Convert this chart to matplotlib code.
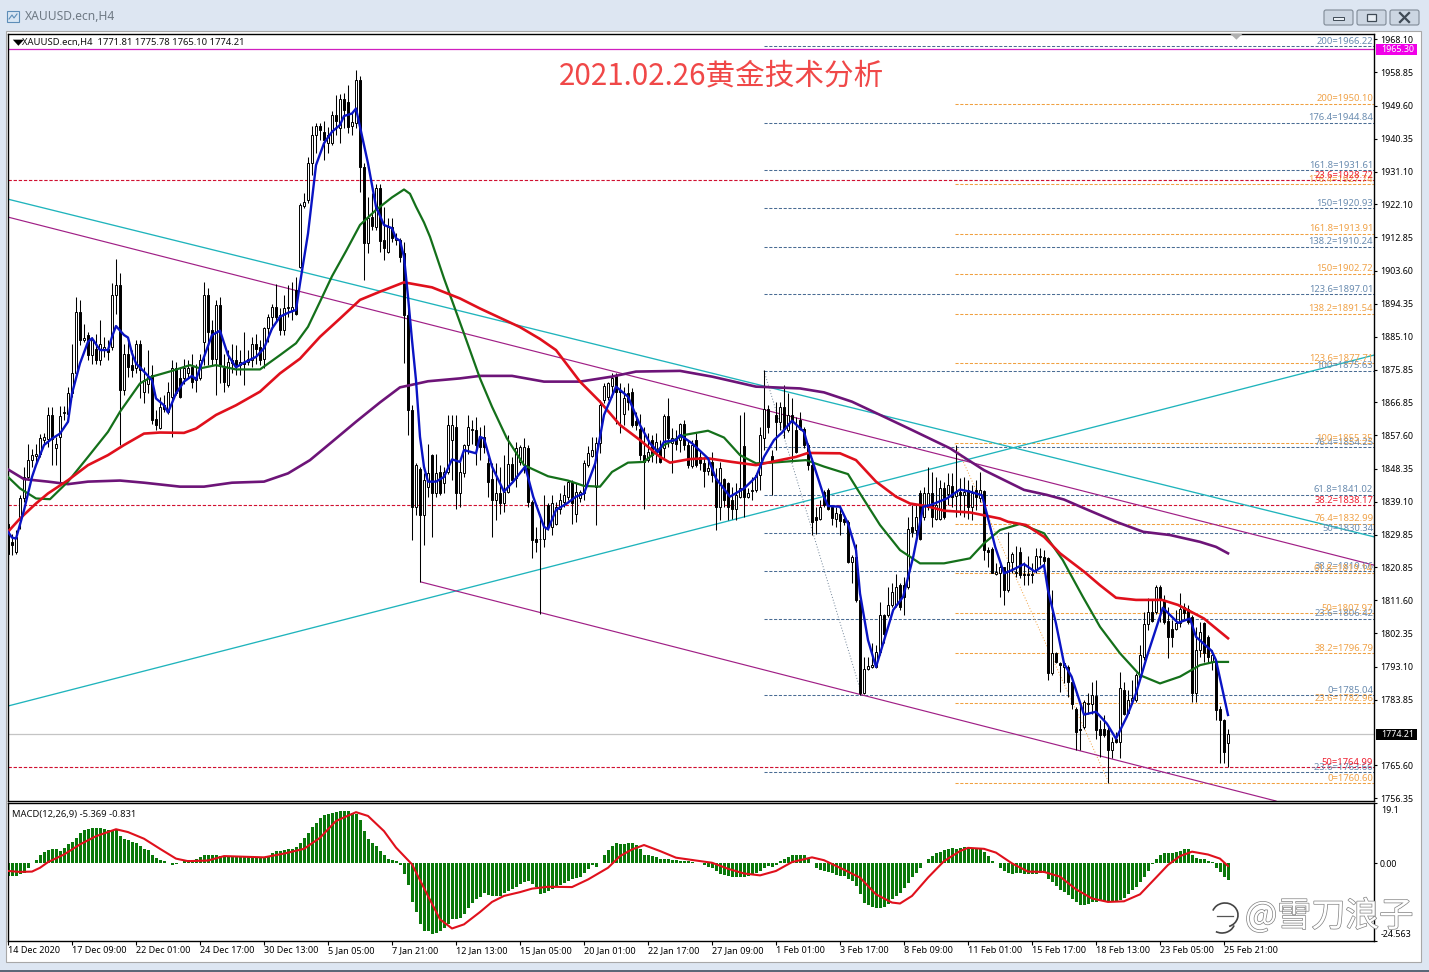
# MT4 XAUUSD H4 screenshot redrawn: candles, moving averages, fib levels, MACD.
# Prices.

import matplotlib

matplotlib.use("Agg")

import matplotlib.patheffects as pe
import matplotlib.pyplot as plt
import numpy as np
from matplotlib.colors import LinearSegmentedColormap
from matplotlib.patches import Arc, FancyBboxPatch, Polygon, Rectangle

plt.rcParams["font.family"] = ["Noto Sans", "DejaVu Sans"]
plt.rcParams["font.size"] = 6.5

W, H = 1429, 972

opens = [
    1833.0, 1827.9, 1825.1, 1833.9, 1840.0, 1846.0, 1850.7, 1851.8, 1852.5, 1856.4,
    1856.7, 1863.2, 1854.2, 1857.2, 1863.9, 1863.7, 1869.3, 1874.9, 1892.1, 1884.2,
    1885.6, 1880.0, 1881.8, 1878.6, 1881.8, 1881.8, 1882.3, 1896.7, 1899.5, 1870.2,
    1880.2, 1877.2, 1876.5, 1883.2, 1869.7, 1872.0, 1874.4, 1862.3, 1859.8, 1866.0,
    1864.2, 1868.4, 1876.3, 1873.5, 1873.5, 1874.9, 1876.7, 1873.0, 1873.5, 1883.7,
    1896.7, 1887.0, 1879.0, 1893.9, 1876.3, 1871.6, 1877.8, 1878.6, 1877.2, 1878.1,
    1878.1, 1878.6, 1883.2, 1882.3, 1879.0, 1887.6, 1890.5, 1893.3, 1891.1, 1887.0,
    1893.0, 1892.5, 1898.1, 1904.6, 1921.6, 1923.3, 1933.5, 1941.4, 1943.9, 1942.3,
    1939.1, 1939.1, 1947.0, 1943.3, 1951.4, 1950.7, 1943.9, 1944.8, 1956.7, 1932.6,
    1911.2, 1918.6, 1915.8, 1926.5, 1912.1, 1908.8, 1915.8, 1912.1, 1912.1, 1908.4,
    1891.2, 1864.7, 1837.7, 1848.3, 1835.3, 1843.2, 1852.1, 1841.4, 1847.4, 1844.2,
    1847.4, 1856.2, 1860.0, 1841.4, 1847.1, 1854.9, 1859.0, 1859.0, 1857.2, 1857.2,
    1849.8, 1845.3, 1839.5, 1841.4, 1838.8, 1841.9, 1849.5, 1845.6, 1850.2, 1849.3,
    1854.0, 1839.1, 1828.8, 1828.6, 1828.8, 1838.2, 1832.1, 1833.0, 1837.2, 1839.1,
    1840.5, 1844.7, 1835.8, 1840.0, 1841.4, 1849.3, 1851.8, 1843.3, 1855.4, 1867.4,
    1868.4, 1871.4, 1874.4, 1870.2, 1863.7, 1869.3, 1869.8, 1861.7, 1859.5, 1852.1,
    1850.7, 1856.3, 1852.6, 1854.0, 1854.0, 1863.0, 1855.4, 1857.0, 1856.3, 1860.8,
    1854.9, 1849.0, 1856.3, 1851.6, 1850.0, 1847.7, 1850.2, 1845.3, 1837.7, 1845.3,
    1844.2, 1839.5, 1837.2, 1840.5, 1854.6, 1840.5, 1842.0, 1842.3, 1846.5, 1856.8,
    1865.1, 1851.8, 1863.3, 1861.4, 1865.6, 1859.1, 1863.3, 1859.1, 1861.9, 1859.3,
    1854.9, 1849.3, 1834.9, 1834.4, 1841.9, 1842.3, 1837.7, 1834.4, 1835.8, 1834.4,
    1833.5, 1822.3, 1823.7, 1811.6, 1785.6, 1792.3, 1793.0, 1793.0, 1797.2, 1807.4,
    1807.4, 1810.2, 1810.2, 1815.8, 1815.8, 1815.4, 1832.1, 1831.2, 1841.4, 1834.9,
    1837.7, 1841.4, 1834.4, 1834.4, 1842.8, 1841.2, 1843.5, 1840.7, 1841.9, 1840.9,
    1842.5, 1837.7, 1842.3, 1840.0, 1842.2, 1825.6, 1826.0, 1818.9, 1819.1, 1820.8,
    1814.4, 1822.3, 1819.1, 1825.1, 1818.9, 1818.9, 1818.9, 1820.0, 1823.6, 1823.7,
    1823.3, 1791.2, 1797.0, 1794.0, 1792.9, 1793.0, 1788.9, 1781.4, 1775.8, 1776.3,
    1782.6, 1782.8, 1785.0, 1775.7, 1775.7, 1775.4, 1769.8, 1773.0, 1772.1, 1786.5,
    1780.2, 1783.6, 1783.7, 1790.3, 1795.8, 1805.1, 1808.4, 1808.4, 1815.4, 1811.7,
    1805.9, 1803.7, 1803.5, 1805.3, 1809.8, 1809.3, 1807.0, 1785.6, 1797.7, 1805.3,
    1801.4, 1794.4, 1794.4, 1781.4, 1778.3, 1771.81,
]
closes = [
    1824.6, 1827.0, 1829.3, 1840.0, 1846.0, 1850.7, 1852.1, 1852.5, 1857.0, 1857.2,
    1863.2, 1856.7, 1855.1, 1862.9, 1864.1, 1869.3, 1874.9, 1892.1, 1884.2, 1884.9,
    1880.0, 1884.2, 1878.6, 1883.2, 1882.3, 1880.9, 1896.7, 1899.5, 1870.2, 1880.4,
    1876.7, 1875.8, 1883.2, 1875.8, 1873.0, 1873.9, 1861.8, 1860.4, 1865.6, 1865.1,
    1869.7, 1876.3, 1869.3, 1868.4, 1876.3, 1876.3, 1872.5, 1873.9, 1878.6, 1896.7,
    1886.5, 1879.0, 1893.9, 1877.2, 1872.5, 1878.1, 1878.6, 1877.2, 1878.1, 1877.6,
    1879.0, 1883.2, 1881.8, 1878.6, 1887.6, 1890.7, 1893.3, 1890.7, 1887.0, 1893.0,
    1893.5, 1893.5, 1891.6, 1921.9, 1922.8, 1933.5, 1941.4, 1943.9, 1942.8, 1940.0,
    1941.4, 1947.0, 1945.4, 1951.4, 1948.4, 1943.7, 1945.1, 1956.7, 1932.6, 1911.2,
    1918.2, 1916.0, 1926.5, 1911.9, 1909.8, 1915.8, 1912.6, 1912.6, 1907.4, 1891.2,
    1864.7, 1837.7, 1849.3, 1835.3, 1845.1, 1847.0, 1841.4, 1847.0, 1841.4, 1847.4,
    1860.4, 1860.4, 1841.4, 1847.4, 1854.9, 1860.0, 1859.5, 1854.9, 1854.4, 1854.4,
    1844.7, 1839.5, 1841.4, 1838.8, 1841.9, 1849.5, 1845.1, 1854.2, 1854.4, 1854.4,
    1839.1, 1828.4, 1827.9, 1828.8, 1832.1, 1832.1, 1838.6, 1837.7, 1839.5, 1840.9,
    1844.7, 1838.6, 1841.9, 1841.9, 1849.8, 1852.8, 1853.5, 1855.4, 1866.0, 1871.4,
    1872.1, 1873.5, 1869.8, 1869.8, 1867.9, 1867.0, 1860.5, 1860.5, 1852.1, 1850.2,
    1853.0, 1852.1, 1855.8, 1850.2, 1863.0, 1856.8, 1856.8, 1855.2, 1860.8, 1854.9,
    1849.3, 1854.9, 1849.3, 1849.8, 1847.7, 1848.4, 1846.5, 1837.7, 1848.4, 1839.5,
    1837.7, 1837.2, 1840.9, 1842.8, 1840.5, 1841.4, 1842.5, 1846.5, 1857.7, 1865.1,
    1860.0, 1850.2, 1861.4, 1865.6, 1859.5, 1863.3, 1861.4, 1853.0, 1859.5, 1854.9,
    1849.3, 1833.5, 1834.0, 1837.7, 1838.2, 1837.2, 1834.6, 1836.0, 1833.8, 1833.5,
    1822.3, 1823.7, 1811.6, 1785.6, 1792.3, 1793.2, 1793.5, 1797.2, 1807.4, 1802.3,
    1810.2, 1814.0, 1815.4, 1809.8, 1812.6, 1831.6, 1830.7, 1834.9, 1828.8, 1841.6,
    1841.6, 1834.9, 1838.2, 1842.8, 1834.9, 1843.7, 1840.5, 1841.9, 1840.9, 1841.9,
    1837.7, 1841.4, 1840.5, 1842.5, 1825.6, 1825.1, 1819.3, 1819.6, 1820.8, 1814.6,
    1822.3, 1824.5, 1819.6, 1818.6, 1818.6, 1818.6, 1818.6, 1823.9, 1823.9, 1822.6,
    1791.2, 1797.0, 1794.4, 1793.5, 1794.0, 1788.9, 1782.6, 1774.9, 1775.4, 1783.3,
    1783.0, 1785.1, 1775.4, 1774.0, 1774.0, 1769.8, 1772.1, 1772.1, 1787.0, 1780.0,
    1783.9, 1784.2, 1790.7, 1796.3, 1804.9, 1808.4, 1805.9, 1815.4, 1811.7, 1805.6,
    1801.4, 1801.4, 1805.3, 1809.3, 1808.1, 1805.6, 1785.6, 1797.7, 1802.8, 1796.8,
    1795.8, 1796.3, 1781.0, 1778.3, 1769.3, 1774.21,
]
highs = [
    1834.0, 1830.2, 1831.1, 1840.9, 1848.8, 1855.3, 1853.9, 1855.3, 1858.1, 1858.3,
    1865.6, 1865.6, 1857.2, 1865.7, 1865.7, 1871.2, 1883.1, 1896.1, 1895.5, 1888.8,
    1886.5, 1885.1, 1886.0, 1889.7, 1885.1, 1884.2, 1900.0, 1906.8, 1902.9, 1883.2,
    1884.2, 1881.4, 1884.2, 1884.2, 1876.7, 1881.4, 1877.2, 1864.6, 1868.4, 1868.8,
    1872.5, 1878.6, 1878.1, 1876.7, 1879.0, 1878.6, 1880.4, 1877.6, 1880.4, 1900.4,
    1898.6, 1889.7, 1895.3, 1896.3, 1880.4, 1881.4, 1883.2, 1882.8, 1881.4, 1886.5,
    1881.4, 1885.1, 1886.0, 1884.2, 1887.9, 1891.6, 1894.2, 1899.8, 1893.0, 1896.7,
    1899.5, 1900.4, 1901.8, 1922.3, 1925.3, 1935.3, 1943.9, 1944.7, 1944.7, 1945.4,
    1943.7, 1948.2, 1952.6, 1952.8, 1953.0, 1955.4, 1947.9, 1959.5, 1958.0, 1933.5,
    1924.2, 1925.1, 1927.7, 1927.7, 1921.4, 1918.2, 1918.2, 1914.0, 1912.6, 1911.6,
    1893.0, 1866.0, 1850.0, 1848.8, 1847.0, 1855.3, 1852.5, 1852.5, 1849.3, 1848.8,
    1863.2, 1863.2, 1863.2, 1850.2, 1855.3, 1863.2, 1861.8, 1862.8, 1860.0, 1860.5,
    1851.6, 1849.8, 1849.8, 1848.8, 1852.1, 1857.7, 1851.6, 1855.8, 1855.0, 1856.8,
    1854.9, 1839.5, 1832.1, 1835.8, 1840.9, 1838.6, 1840.9, 1839.1, 1841.4, 1843.7,
    1845.1, 1845.1, 1844.2, 1842.3, 1850.7, 1854.6, 1857.2, 1857.2, 1867.4, 1872.1,
    1872.6, 1874.9, 1874.9, 1872.1, 1871.2, 1872.1, 1870.7, 1864.2, 1863.7, 1860.0,
    1858.2, 1857.7, 1858.2, 1856.3, 1863.7, 1867.9, 1859.6, 1859.1, 1861.0, 1861.9,
    1856.3, 1856.3, 1858.2, 1853.5, 1851.6, 1850.7, 1853.0, 1848.4, 1850.2, 1845.6,
    1844.7, 1843.3, 1844.2, 1863.3, 1864.2, 1842.8, 1846.0, 1847.0, 1860.0, 1875.8,
    1866.0, 1853.5, 1867.0, 1867.0, 1871.6, 1869.3, 1867.9, 1862.8, 1864.2, 1860.0,
    1855.4, 1851.2, 1837.7, 1839.5, 1842.3, 1842.8, 1838.2, 1837.7, 1838.2, 1835.4,
    1834.0, 1824.2, 1827.4, 1812.1, 1795.8, 1795.8, 1799.6, 1799.1, 1811.2, 1807.9,
    1815.4, 1816.3, 1818.9, 1816.3, 1818.2, 1834.9, 1838.2, 1838.2, 1842.3, 1843.3,
    1848.8, 1847.4, 1846.0, 1845.1, 1844.7, 1847.0, 1847.0, 1854.9, 1845.6, 1846.1,
    1845.1, 1843.7, 1845.1, 1847.5, 1842.4, 1826.5, 1826.5, 1821.9, 1821.9, 1821.0,
    1830.7, 1825.1, 1826.7, 1826.5, 1822.3, 1823.9, 1821.9, 1826.3, 1826.3, 1825.6,
    1823.7, 1814.4, 1797.2, 1794.4, 1794.4, 1793.5, 1789.3, 1781.9, 1782.8, 1783.7,
    1785.6, 1788.9, 1789.3, 1778.2, 1779.6, 1776.8, 1773.5, 1774.9, 1791.7, 1788.9,
    1786.5, 1789.3, 1791.2, 1799.1, 1808.4, 1812.1, 1811.7, 1815.8, 1815.8, 1813.0,
    1809.8, 1806.1, 1808.9, 1813.7, 1810.7, 1810.3, 1807.5, 1804.2, 1805.6, 1805.6,
    1801.9, 1797.7, 1794.9, 1782.0, 1778.6, 1775.78,
]
lows = [
    1821.8, 1824.2, 1824.6, 1831.6, 1839.0, 1845.1, 1848.8, 1849.7, 1851.6, 1855.3,
    1854.4, 1849.3, 1849.3, 1844.2, 1861.8, 1862.8, 1868.4, 1873.9, 1882.8, 1883.7,
    1878.6, 1877.6, 1877.6, 1877.2, 1879.5, 1878.6, 1881.4, 1891.6, 1854.9, 1868.8,
    1873.9, 1873.9, 1874.9, 1867.9, 1866.5, 1869.3, 1860.9, 1859.0, 1859.5, 1864.2,
    1863.7, 1857.2, 1868.8, 1867.9, 1872.0, 1873.5, 1870.7, 1869.7, 1873.0, 1877.2,
    1877.2, 1877.2, 1868.8, 1872.1, 1869.7, 1871.1, 1874.9, 1874.4, 1874.4, 1871.6,
    1877.2, 1876.7, 1877.6, 1877.2, 1876.3, 1883.7, 1887.4, 1889.3, 1885.6, 1885.6,
    1890.7, 1889.7, 1891.1, 1904.2, 1920.9, 1922.3, 1930.2, 1936.3, 1940.0, 1934.4,
    1936.5, 1938.5, 1941.4, 1939.1, 1943.3, 1942.1, 1941.4, 1943.3, 1925.6, 1900.9,
    1908.4, 1914.9, 1914.9, 1908.8, 1906.5, 1908.4, 1911.6, 1910.7, 1906.0, 1877.7,
    1857.7, 1828.4, 1835.3, 1816.7, 1827.0, 1840.4, 1829.3, 1840.4, 1840.9, 1841.4,
    1846.9, 1845.1, 1837.2, 1837.7, 1846.0, 1852.5, 1855.3, 1849.3, 1850.7, 1852.6,
    1840.5, 1829.3, 1834.0, 1835.8, 1836.3, 1841.4, 1844.2, 1843.3, 1849.3, 1847.0,
    1837.7, 1823.3, 1825.1, 1807.9, 1826.5, 1831.2, 1829.8, 1832.6, 1835.8, 1837.7,
    1839.5, 1833.0, 1833.5, 1839.1, 1839.5, 1848.8, 1851.6, 1832.6, 1852.6, 1866.5,
    1867.4, 1868.4, 1860.9, 1858.2, 1860.5, 1864.7, 1860.0, 1859.1, 1850.7, 1837.2,
    1850.2, 1850.2, 1849.8, 1849.8, 1851.2, 1854.4, 1847.0, 1853.5, 1853.0, 1853.5,
    1848.4, 1848.4, 1848.8, 1847.9, 1843.3, 1846.5, 1844.7, 1831.2, 1834.0, 1837.7,
    1834.0, 1834.4, 1834.0, 1840.0, 1834.9, 1840.0, 1839.5, 1841.9, 1842.3, 1853.5,
    1858.2, 1840.9, 1853.5, 1859.1, 1856.8, 1858.6, 1850.2, 1852.6, 1859.1, 1854.0,
    1847.9, 1829.8, 1830.2, 1834.0, 1837.7, 1836.7, 1832.6, 1832.1, 1829.8, 1832.6,
    1821.9, 1816.3, 1811.0, 1785.1, 1785.4, 1792.1, 1792.6, 1792.8, 1796.3, 1799.6,
    1807.0, 1809.8, 1809.8, 1809.0, 1807.4, 1814.8, 1829.3, 1829.5, 1828.4, 1834.0,
    1836.7, 1832.1, 1834.0, 1834.0, 1834.4, 1838.2, 1837.7, 1834.9, 1835.4, 1834.9,
    1834.4, 1834.0, 1836.8, 1839.1, 1822.8, 1821.0, 1819.1, 1818.6, 1812.6, 1810.3,
    1814.0, 1819.1, 1818.2, 1817.7, 1815.8, 1815.8, 1816.3, 1819.1, 1821.4, 1819.6,
    1789.3, 1790.7, 1794.0, 1786.1, 1788.4, 1784.7, 1781.4, 1769.8, 1769.8, 1775.8,
    1780.0, 1780.0, 1773.0, 1767.9, 1773.5, 1760.5, 1767.5, 1771.7, 1767.5, 1779.6,
    1780.0, 1782.8, 1783.3, 1789.8, 1794.9, 1803.3, 1805.6, 1807.9, 1805.6, 1805.1,
    1795.4, 1798.6, 1803.3, 1804.2, 1806.5, 1805.1, 1783.3, 1783.3, 1795.8, 1794.4,
    1794.0, 1792.1, 1778.2, 1766.1, 1766.1, 1765.10,
]

# moving averages, sampled at bar index
blue_x = [
    0, 1, 2, 4, 6, 7, 9, 11, 13, 15, 16, 18, 20, 21, 23, 25, 26, 27, 29, 30, 31, 32, 34, 36,
    37, 39, 40, 42, 44, 46, 47, 49, 51, 53, 55, 57, 59, 62, 64, 66, 68, 70, 72, 73, 75, 77,
    79, 81, 83, 84, 86, 87, 88, 90, 92, 94, 96, 97, 98, 99, 100, 101, 102, 103, 104, 105,
    107, 109, 111, 113, 114, 117, 118, 119, 121, 124, 126.3, 129.3, 131.3, 134, 135, 137,
    139.7, 142, 144, 146.8, 149, 152, 155, 158, 160.5, 162.5, 164, 167, 168, 171, 175, 177,
    180.5, 184, 187, 189, 191.5, 193.5, 196, 199, 200.5, 204, 205, 208, 210, 212, 213, 215,
    217, 218.8, 221.3, 223.8, 226.3, 228.8, 230.7, 234.7, 238, 240.5, 243.5, 244.7, 246.8,
    249, 251, 254, 256.7, 259, 260, 262, 264, 265.9, 269, 272, 274.7, 277, 279.7, 282,
    284.7, 288.7, 292.5, 295.5, 297, 300.9, 302, 305,
]
blue_y = [
    1830.7, 1829.1, 1828.8, 1836.7, 1846.0, 1849.3, 1854.9, 1856.7, 1858.1, 1861.4, 1869.3,
    1877.7, 1883.7, 1884.7, 1881.4, 1881.4, 1885.1, 1888.1, 1885.6, 1884.9, 1880.5, 1877.7,
    1875.4, 1873.0, 1867.9, 1866.0, 1864.0, 1869.3, 1872.6, 1874.2, 1873.2, 1879.5, 1885.6,
    1886.8, 1880.0, 1876.6, 1877.9, 1879.5, 1881.9, 1887.4, 1890.7, 1891.8, 1892.6, 1900.0,
    1913.9, 1933.0, 1939.1, 1942.3, 1944.2, 1946.7, 1947.4, 1948.8, 1943.7, 1933.5, 1921.4,
    1916.3, 1915.4, 1912.6, 1911.9, 1907.4, 1896.3, 1884.2, 1873.0, 1857.2, 1848.8, 1844.7,
    1844.7, 1846.0, 1850.9, 1850.2, 1853.5, 1852.6, 1857.2, 1856.7, 1848.9, 1841.9, 1844.7,
    1848.9, 1840.5, 1832.1, 1831.4, 1836.8, 1838.6, 1840.5, 1841.4, 1849.8, 1863.3, 1871.2,
    1868.4, 1860.5, 1855.4, 1853.0, 1855.8, 1856.3, 1857.7, 1855.4, 1851.2, 1845.6, 1840.5,
    1842.8, 1846.0, 1851.6, 1856.3, 1858.4, 1861.7, 1858.6, 1852.6, 1840.5, 1837.9, 1837.7,
    1833.0, 1825.6, 1813.5, 1800.5, 1793.0, 1799.6, 1808.9, 1812.6, 1823.7, 1837.7, 1838.2,
    1840.0, 1842.5, 1841.9, 1840.9, 1835.8, 1826.5, 1819.1, 1820.0, 1821.7, 1819.6, 1821.4,
    1814.4, 1805.1, 1794.0, 1790.3, 1779.7, 1780.5, 1777.2, 1773.0, 1779.1, 1785.6, 1795.8,
    1809.5, 1805.3, 1806.5, 1801.4, 1797.5, 1794.9, 1779.6,
]
green_x = [
    0, 3, 7, 10.5, 15, 20, 25, 28, 33, 36, 41, 45.5, 48, 52, 57, 63, 68, 72, 75, 78, 81,
    84.5, 88, 92, 96, 99, 100.5, 102, 104, 105.5, 109, 114, 118, 121, 124.7, 129, 135, 140,
    144, 148, 151, 155, 159, 164, 169, 175, 179, 183, 187, 191, 199.5, 204, 210, 213, 218,
    223, 228, 234, 240.5, 244, 248, 253, 259, 263.7, 268.7, 273, 278, 283, 288, 293, 298,
    301.5, 305,
]
green_y = [
    1846.0, 1842.8, 1840.0, 1839.8, 1844.7, 1851.6, 1858.6, 1864.2, 1872.1, 1874.0, 1875.6,
    1877.2, 1876.3, 1877.2, 1876.0, 1876.0, 1880.0, 1883.3, 1887.9, 1894.9, 1902.0, 1909.0,
    1916.3, 1920.5, 1924.0, 1926.2, 1925.0, 1921.4, 1917.0, 1913.0, 1901.4, 1886.0, 1873.5,
    1865.6, 1856.8, 1849.3, 1846.2, 1845.0, 1843.5, 1843.3, 1847.4, 1850.0, 1850.2, 1854.9,
    1857.7, 1858.9, 1857.0, 1852.1, 1849.8, 1850.0, 1850.7, 1848.9, 1846.8, 1841.4, 1832.6,
    1825.6, 1821.9, 1821.9, 1823.3, 1827.5, 1831.2, 1832.9, 1830.3, 1822.8, 1812.6, 1804.2,
    1796.8, 1790.7, 1788.4, 1790.3, 1793.5, 1794.4, 1794.4,
]
red_x = [
    0, 3, 7, 10, 15, 20, 25, 29, 34, 38, 44, 47, 52, 57, 63, 68, 73, 78, 83, 88, 93, 99,
    106, 113, 118, 128, 133, 137, 143, 148, 153, 158, 163, 165.5, 170.5, 175, 181, 187,
    193, 197, 200, 208, 212, 217, 222, 225.5, 229.5, 234, 240.5, 248, 250, 254.5, 259, 263,
    269, 273, 277, 282, 288.5, 292.5, 299, 301.5, 305,
]
red_y = [
    1830.7, 1834.4, 1838.6, 1841.4, 1845.1, 1849.3, 1852.1, 1854.9, 1858.1, 1858.4, 1858.3,
    1859.5, 1863.3, 1866.0, 1869.8, 1874.9, 1879.0, 1885.1, 1890.2, 1895.4, 1897.7, 1900.3,
    1898.9, 1895.8, 1893.0, 1887.8, 1884.5, 1881.4, 1872.6, 1867.0, 1860.5, 1856.3, 1851.6,
    1850.0, 1851.0, 1851.2, 1850.2, 1849.3, 1850.7, 1851.6, 1852.7, 1852.6, 1850.7, 1844.7,
    1840.5, 1838.6, 1837.9, 1836.6, 1836.1, 1834.4, 1833.5, 1832.6, 1829.3, 1824.7, 1819.6,
    1815.8, 1812.3, 1811.7, 1811.7, 1810.3, 1806.5, 1804.2, 1801.0,
]
purple_x = [
    0, 4, 10, 15, 20, 28, 34, 43, 49, 56, 64, 70, 75.5, 81, 87, 93, 98, 100.5, 105, 113,
    118, 126, 134, 143, 151, 157, 168, 176, 187, 198, 204, 211, 219, 226, 235.5, 244, 254,
    259.7, 264, 270, 277, 283.8, 290.5, 298, 302, 305,
]
purple_y = [
    1848.1, 1845.4, 1844.7, 1844.0, 1844.7, 1845.0, 1844.4, 1843.3, 1843.3, 1844.4, 1844.7,
    1847.0, 1850.7, 1855.8, 1861.4, 1866.8, 1871.0, 1871.6, 1872.7, 1873.5, 1874.2, 1874.2,
    1872.6, 1872.6, 1874.0, 1875.4, 1875.6, 1874.0, 1871.2, 1870.7, 1869.6, 1867.0, 1862.8,
    1859.1, 1854.0, 1847.9, 1842.4, 1841.0, 1839.7, 1836.8, 1833.5, 1830.7, 1829.8, 1827.9,
    1826.5, 1824.7,
]

macd_hist = [
    -4.0, -4.0, -4.0, -3.5, -3.0, -1.4, 0.2, 1.2, 2.5, 3.6, 4.2, 4.4, 4.4, 3.9, 5.0, 6.0, 6.9,
    8.1, 9.7, 10.5, 11.0, 11.3, 11.3, 11.1, 10.8, 10.5, 10.5, 10.8, 8.6, 7.6, 7.3, 6.9, 6.5,
    5.5, 4.4, 4.2, 2.8, 1.8, 1.0, 0.6, 0.2, -0.6, -0.2, 0.2, 0.8, 1.0, 1.0, 1.5, 2.1, 2.6,
    2.8, 2.8, 2.5, 2.3, 2.3, 2.3, 2.3, 2.3, 2.3, 2.1, 1.9, 1.9, 1.9, 1.9, 2.1, 2.3, 3.4, 3.8,
    3.9, 4.2, 4.4, 4.7, 5.2, 6.5, 8.1, 9.7, 11.6, 12.9, 14.4, 15.2, 15.6, 16.0, 16.4, 16.6,
    16.6, 16.5, 16.0, 15.6, 13.7, 10.1, 7.8, 6.5, 5.5, 3.9, 2.5, 1.5, 1.0, 0.6, -0.6, -3.5,
    -7.0, -12.2, -15.4, -19.3, -21.4, -21.5, -22.4, -21.9, -21.5, -20.4, -19.3, -17.7, -17.5,
    -17.2, -16.1, -14.0, -12.4, -11.4, -10.7, -9.5, -10.0, -10.4, -10.4, -10.2, -9.5, -8.8,
    -8.0, -7.4, -6.6, -5.9, -5.7, -6.6, -7.4, -9.8, -9.3, -8.9, -8.2, -7.4, -7.0, -6.1, -5.6,
    -5.1, -4.5, -4.2, -3.2, -1.9, -0.6, -1.2, 0.2, 2.5, 4.2, 5.5, 6.3, 6.1, 6.1, 6.5, 6.3,
    5.7, 4.7, 2.8, 2.5, 2.3, 2.1, 1.5, 1.3, 1.5, 1.0, 1.0, 0.9, 0.8, 0.6, 0.4, 0.2, 0.0, -0.6,
    -1.0, -1.4, -2.4, -3.4, -3.6, -4.0, -4.2, -4.4, -4.4, -4.2, -4.0, -3.6, -3.2, -2.4, -1.5,
    -0.8, -1.2, -0.5, 0.8, 1.5, 2.1, 2.8, 2.8, 2.8, 2.8, 1.5, 0.2, -1.4, -2.1, -2.4, -2.7,
    -3.0, -3.8, -4.0, -4.0, -4.9, -5.6, -7.2, -9.8, -12.4, -13.2, -13.7, -14.1, -14.0, -13.7,
    -12.7, -11.4, -10.3, -9.3, -7.7, -6.1, -4.2, -3.0, -1.4, 0.0, 1.5, 2.3, 3.2, 3.7, 4.2,
    4.7, 5.0, 4.7, 5.0, 5.2, 5.0, 5.0, 4.6, 4.4, 3.6, 2.3, 0.9, 0.0, -1.4, -2.4, -3.2, -3.4,
    -3.2, -3.2, -3.4, -3.4, -3.4, -3.4, -3.2, -3.2, -4.9, -5.9, -7.2, -8.4, -9.1, -10.1,
    -11.2, -12.2, -13.2, -13.3, -12.7, -12.2, -12.2, -11.9, -11.9, -11.9, -11.9, -11.9, -11.7,
    -11.0, -9.8, -8.4, -7.4, -5.9, -4.2, -2.3, -0.3, 1.5, 2.5, 3.2, 3.4, 3.4, 3.7, 4.0, 4.4,
    4.4, 2.8, 1.7, 1.5, 1.3, 0.9, 0.4, -1.4, -2.7, -4.4, -5.369,
]
signal_x = [
    0, 3, 6, 8, 10, 14, 18, 22, 27, 30, 34, 38, 42, 45, 50, 54, 59, 64, 69, 74, 78, 82, 87,
    90, 94, 97, 101, 105, 108, 111, 114, 118, 121, 124, 128, 131, 135, 141, 145, 150, 153,
    156, 159, 163, 167, 172, 176, 180, 184, 188, 192, 196, 201, 204, 208, 213, 217, 221, 223,
    226, 230, 234, 238, 240, 244, 247, 251, 255, 259, 263, 267, 271, 275, 279, 283, 287, 290,
    293, 296, 300, 303, 305,
]
signal_y = [
    -2.4, -2.7, -2.6, -1.4, 0.4, 2.8, 6.0, 8.6, 10.8, 9.9, 7.8, 4.6, 1.5, 0.7, 0.9, 2.3, 2.1,
    1.9, 3.1, 4.6, 8.1, 13.4, 16.2, 15.0, 10.2, 5.0, -0.3, -10.3, -17.7, -20.6, -19.3, -15.4,
    -12.2, -10.3, -9.1, -8.0, -7.4, -7.5, -5.1, -1.4, 2.3, 4.4, 5.8, 3.9, 1.8, 0.9, 0.2, -1.7,
    -3.2, -3.8, -2.4, 0.4, 1.9, 1.0, -1.4, -4.5, -9.8, -12.4, -12.7, -10.3, -4.5, 0.7, 3.9,
    4.9, 4.6, 3.4, 0.0, -2.6, -2.7, -4.2, -8.2, -11.1, -12.2, -12.0, -9.8, -4.5, -0.5, 2.3,
    3.7, 2.8, 1.5, -0.831,
]

price_ticks = [
    1968.10, 1958.85, 1949.60, 1940.35, 1931.10, 1922.10, 1912.85, 1903.60, 1894.35, 1885.10,
    1875.85, 1866.85, 1857.60, 1848.35, 1839.10, 1829.85, 1820.85, 1811.60, 1802.35, 1793.10,
    1783.85, 1765.60, 1756.35,
]
date_ticks = [
    "14 Dec 2020", "17 Dec 09:00", "22 Dec 01:00", "24 Dec 17:00", "30 Dec 13:00", "5 Jan 05:00",
    "7 Jan 21:00", "12 Jan 13:00", "15 Jan 05:00", "20 Jan 01:00", "22 Jan 17:00", "27 Jan 09:00",
    "1 Feb 01:00", "3 Feb 17:00", "8 Feb 09:00", "11 Feb 01:00", "15 Feb 17:00", "18 Feb 13:00",
    "23 Feb 05:00", "25 Feb 21:00",
]

# fibonacci levels: label, price
fib_blue_names = ["200", "176.4", "161.8", "150", "138.2", "123.6", "100", "76.4", "61.8", "50",
                  "38.2", "23.6", "0", "-23.6"]
fib_blue_vals = [1966.22, 1944.84, 1931.61, 1920.93, 1910.24, 1897.01, 1875.63, 1854.25, 1841.02,
                 1830.34, 1819.66, 1806.42, 1785.04, 1763.66]
fib_orange_names = ["200", "176.4", "161.8", "150", "138.2", "123.6", "100", "76.4", "61.8", "50",
                    "38.2", "23.6", "0"]
fib_orange_vals = [1950.10, 1927.74, 1913.91, 1902.72, 1891.54, 1877.71, 1855.35, 1832.99, 1819.14,
                   1807.97, 1796.79, 1782.96, 1760.60]
fib_red_names = ["23.6", "38.2", "50"]
fib_red_vals = [1928.72, 1838.17, 1764.99]

BLUE_FIB = "#4a6c94"
BLUE_FIB_TEXT = "#6a8cb0"
ORANGE_FIB = "#f0a040"
ORANGE_FIB_TEXT = "#f0a248"
RED_FIB = "#d01030"
RED_FIB_TEXT = "#ee2233"
TEAL = "#1fb4bc"
CHANNEL = "#a01f86"
DASH = (0, (3, 1.6))


def px_axes(left, top, right, bottom):
    return fig.add_axes([left / W, 1 - bottom / H, (right - left) / W, (bottom - top) / H])


fig = plt.figure(figsize=(W / 100, H / 100), dpi=100, facecolor="white")

# window chrome, in screen pixels
bg = fig.add_axes([0, 0, 1, 1], zorder=0)
bg.add_patch(Rectangle((0, 0), W, H, fc="#dde6f2", ec="none"))
title_cmap = LinearSegmentedColormap.from_list("title", ["#b6c4d2", "#e2e9f1"])
bg.imshow(np.linspace(0, 1, 30)[:, None], extent=(0, W, 30, 0), aspect="auto", cmap=title_cmap)
bg.set_xlim(0, W)
bg.set_ylim(H, 0)
bg.axis("off")
bg.add_patch(Rectangle((6, 31), 1415, 931, fc="white", ec="#a8a8a8", lw=0.8))
bg.add_patch(Rectangle((0, 970), W, 2, fc="#5a6878", ec="none"))
bg.text(25, 17, "XAUUSD.ecn,H4", fontsize=8.7, color="#6f7a85", va="center", ha="left")
bg.add_patch(Rectangle((7, 11), 12, 11, fc="#d8e6f4", ec="#5d8db8", lw=0.8))
bg.plot([9, 12, 14, 17], [19, 15, 18, 14], color="#5d8db8", lw=0.8)
for bx in (1324, 1357, 1390):
    bg.add_patch(FancyBboxPatch((bx, 10), 29, 15, boxstyle="round,pad=0,rounding_size=2",
                                fc="#ccd6e2", ec="#7f8a96", lw=0.8))
bg.add_patch(Rectangle((1333, 17), 11, 3, fc="#e8eef4", ec="#3f4a55", lw=0.7))
bg.add_patch(Rectangle((1367, 14), 9, 7, fc="#e8eef4", ec="#3f4a55", lw=0.9))
bg.plot([1400, 1409], [13, 22], color="#3f4a55", lw=1.6)
bg.plot([1400, 1409], [22, 13], color="#3f4a55", lw=1.6)

ax = px_axes(8, 34, 1374, 801)
ax.set_zorder(1)
ax.set_xlim(0, 341.5)
ax.set_ylim(1755.6, 1969.58)

# levels
ax.axhline(1965.30, color="#d01fc0", lw=0.9, zorder=1)
ax.axhline(closes[-1], color="#c4c4c4", lw=0.9, zorder=1)
ax.hlines(fib_blue_vals, 189, 341.5, color=BLUE_FIB, lw=0.75, linestyles=DASH, zorder=1)
ax.hlines(fib_orange_vals, 236.75, 341.5, color=ORANGE_FIB, lw=0.75, linestyles=DASH, zorder=1)
ax.hlines(fib_red_vals, 0, 341.5, color=RED_FIB, lw=0.8, linestyles=DASH, zorder=1)
ax.plot([189, 213.5], [1875.63, 1785.04], color="#6f8296", lw=0.7, ls=(0, (1, 2)), zorder=1)
ax.plot([236.75, 275.25], [1855.35, 1760.6], color=ORANGE_FIB, lw=0.7, ls=(0, (1, 2)), zorder=1)

# trend lines and channel
ax.plot([0, 341.5], [1923.5, 1829.3], color=TEAL, lw=0.95, zorder=2)
ax.plot([0, 341.5], [1782.1, 1880.0], color=TEAL, lw=0.95, zorder=2)
ax.plot([0, 341.5], [1918.5, 1821.4], color=CHANNEL, lw=0.85, zorder=2)
ax.plot([103.25, 317], [1816.7, 1755.6], color=CHANNEL, lw=0.85, zorder=2)

# candles
idx = np.arange(len(closes))
o = np.array(opens)
c = np.array(closes)
ax.vlines(idx, lows, highs, color="black", lw=0.75, zorder=3)
up = c >= o
ax.bar(idx[up], (c - o)[up], bottom=o[up], width=0.66, fc="white", ec="black", lw=0.7, zorder=4)
ax.bar(idx[~up], (o - c)[~up], bottom=c[~up], width=0.66, fc="black", ec="black", lw=0.7, zorder=4)

# moving averages
ax.plot(purple_x, purple_y, color="#6d1478", lw=1.9, zorder=5, solid_joinstyle="round")
ax.plot(green_x, green_y, color="#14701a", lw=1.6, zorder=5, solid_joinstyle="round")
ax.plot(red_x, red_y, color="#e0101c", lw=1.9, zorder=5, solid_joinstyle="round")
ax.plot(blue_x, blue_y, color="#0a14c4", lw=1.7, zorder=6, solid_joinstyle="round")

# level labels
for names, vals, col in (
    (fib_blue_names, fib_blue_vals, BLUE_FIB_TEXT),
    (fib_orange_names, fib_orange_vals, ORANGE_FIB_TEXT),
    (fib_red_names, fib_red_vals, RED_FIB_TEXT),
):
    for name, val in zip(names, vals):
        ax.text(341.3, val + 0.1, f"{name}={val:.2f}", color=col, fontsize=6.8, ha="right", va="bottom", zorder=7)

ax.text(3.5, 1967.1, "XAUUSD.ecn,H4  1771.81 1775.78 1765.10 1774.21", fontsize=6.8, color="#111111",
        ha="left", va="center", zorder=8)
ax.add_patch(Polygon([[1.2, 1968.0], [4.0, 1968.0], [2.6, 1966.3]], closed=True, fc="black", ec="none", zorder=8))
ax.add_patch(Polygon([[305.6, 1969.58], [308.6, 1969.58], [307.1, 1968.0]], closed=True, fc="#b0b0b0", ec="none", zorder=8))
ax.text(137.8, 1958.0, "2021.02.26黄金技术分析", fontsize=21.3, color="#f04848",
        family=["Noto Sans CJK SC", "DejaVu Sans"], ha="left", va="center", zorder=8)

ax.yaxis.tick_right()
ax.set_yticks(price_ticks)
ax.set_yticklabels([f"{t:.2f}" for t in price_ticks])
ax.set_xticks([])
ax.tick_params(axis="y", length=2.2, width=0.8, pad=2.0, labelsize=6.4)
for sp in ax.spines.values():
    sp.set_linewidth(1.0)

# price badges on the scale
scale_tf = ax.get_yaxis_transform()
for price, box_col in ((1965.30, "#f000e8"), (closes[-1], "black")):
    ax.add_patch(Rectangle((1 + 2 / 1366, price - 1.6), 41 / 1366, 3.2, fc=box_col, ec="none",
                           transform=scale_tf, clip_on=False, zorder=9))
    ax.text(1 + 7 / 1366, price, f"{price:.2f}", transform=scale_tf, color="white", fontsize=6.4,
            va="center", ha="left", clip_on=False, zorder=10)

# MACD panel
ax2 = px_axes(8, 803, 1374, 941)
ax2.set_zorder(1)
ax2.set_xlim(0, 341.5)
ax2.set_ylim(-24.563, 19.1)
ax2.bar(idx, macd_hist, width=0.75, color="#0a780a", lw=0, zorder=2)
ax2.plot(signal_x, signal_y, color="#e0101c", lw=1.5, zorder=3, solid_joinstyle="round")
ax2.text(1.0, 15.6, "MACD(12,26,9) -5.369 -0.831", fontsize=6.8, color="#111111", ha="left", va="center")
ax2.yaxis.tick_right()
ax2.set_yticks([19.1, 0, -24.563])
ax2.set_yticklabels(["", "0.00", ""])
ax2.tick_params(axis="y", length=2.2, width=0.8, pad=2.0, labelsize=6.4)
scale2_tf = ax2.get_yaxis_transform()
ax2.text(1 + 7 / 1366, 16.8, "19.1", transform=scale2_tf, fontsize=6.4, va="center", ha="left", clip_on=False)
ax2.text(1 + 7 / 1366, -22.4, "-24.563", transform=scale2_tf, fontsize=6.4, va="center", ha="left", clip_on=False)
ax2.set_xticks(np.arange(len(date_ticks)) * 16)
ax2.set_xticklabels(date_ticks, ha="left")
ax2.tick_params(axis="x", length=2.6, width=0.8, pad=1.0, labelsize=6.5)
for sp in ax2.spines.values():
    sp.set_linewidth(1.0)

# watermark on top of everything
top = fig.add_axes([0, 0, 1, 1], zorder=5)
top.set_xlim(0, W)
top.set_ylim(H, 0)
top.axis("off")
top.patch.set_alpha(0)
top.text(1245, 916.5, "@雪刀浪子", fontsize=24.5, color="white", family=["Noto Sans CJK SC", "DejaVu Sans"],
         ha="left", va="center", path_effects=[pe.withStroke(linewidth=1.0, foreground="#808080")])
top.add_patch(Arc((1225, 915), 26, 24, theta1=200, theta2=70, color="#444444", lw=1.2))
top.add_patch(Arc((1222, 921), 26, 24, theta1=20, theta2=120, color="#444444", lw=1.2))
top.plot([1217, 1233], [916, 916], color="#555555", lw=0.9)

fig.savefig("out.png", dpi=100, facecolor="white")
